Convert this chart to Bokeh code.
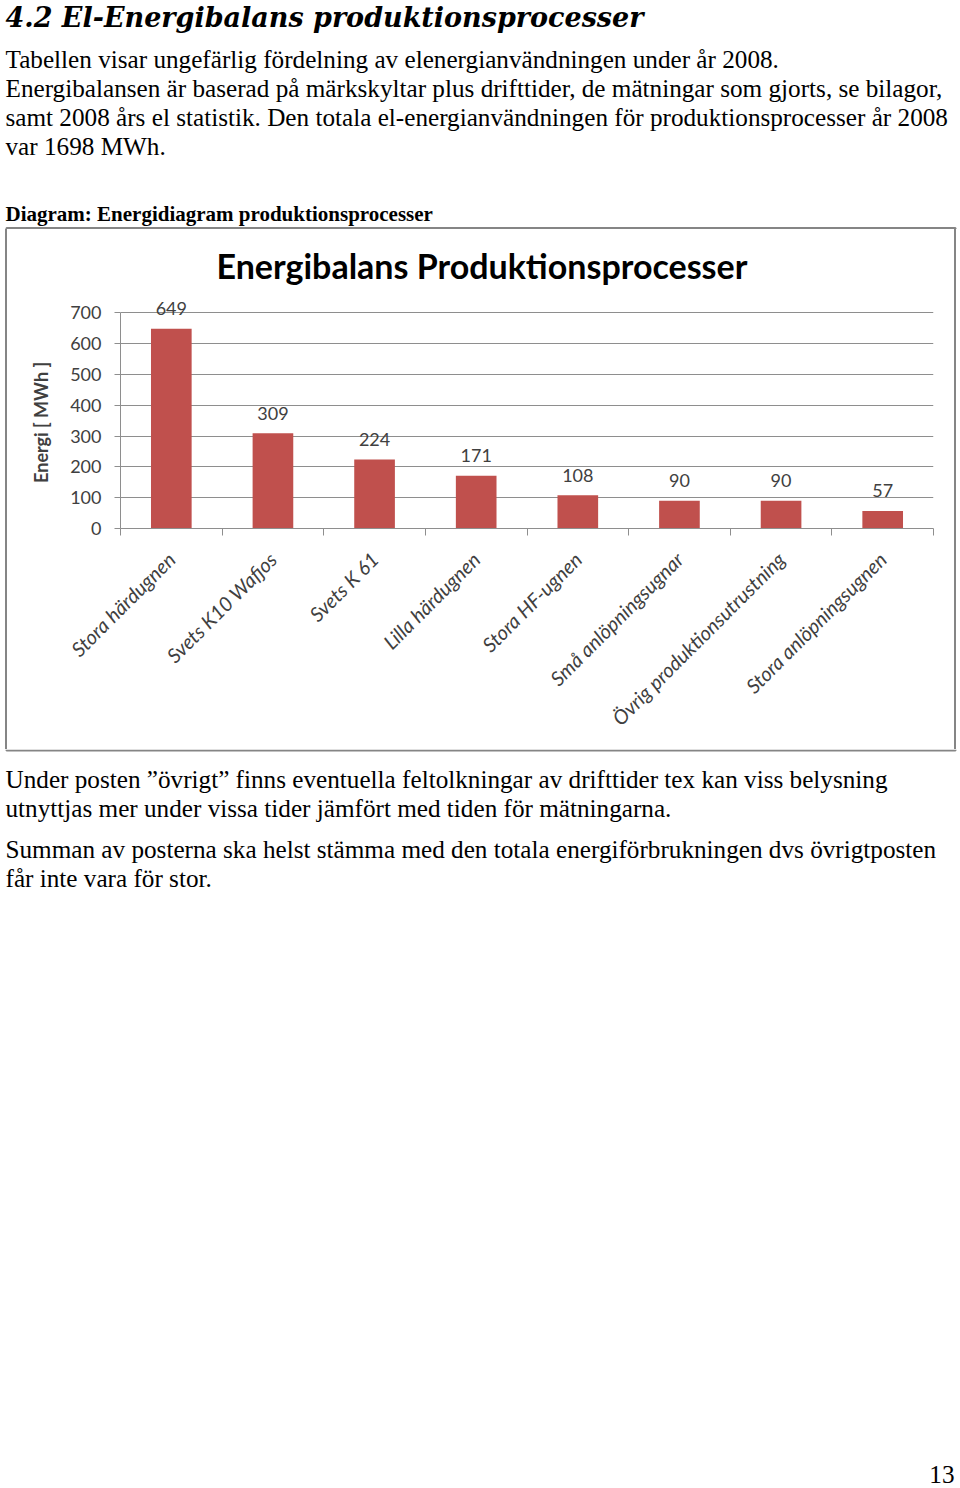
import math
from bokeh.plotting import figure
from bokeh.layouts import column, row
from bokeh.models import ColumnDataSource, FixedTicker, Range1d, Title, Div
from bokeh.core.properties import value
from bokeh.embed import file_html
from bokeh.resources import INLINE

# ---------------- data ----------------
categories = [
    "Stora härdugnen",
    "Svets K10 Wafjos",
    "Svets K 61",
    "Lilla härdugnen",
    "Stora HF-ugnen",
    "Små anlöpningsugnar",
    "Övrig produktionsutrustning",
    "Stora anlöpningsugnen",
]
energy_mwh = [649, 309, 224, 171, 108, 90, 90, 57]
y_ticks = [0, 100, 200, 300, 400, 500, 600, 700]

heading = "4.2  El-Energibalans produktionsprocesser"
intro_lines = [
    "Tabellen visar ungefärlig fördelning av elenergianvändningen under år 2008.",
    "Energibalansen är baserad på märkskyltar plus drifttider, de mätningar som gjorts, se bilagor,",
    "samt 2008 års el statistik. Den totala el-energianvändningen för produktionsprocesser år 2008",
    "var 1698 MWh.",
]
caption = "Diagram: Energidiagram produktionsprocesser"
chart_title = "Energibalans Produktionsprocesser"
y_axis_title = "Energi [ MWh ]"
outro_lines_1 = [
    "Under posten ”övrigt” finns eventuella feltolkningar av drifttider tex kan viss belysning",
    "utnyttjas mer under vissa tider jämfört med tiden för mätningarna.",
]
outro_lines_2 = [
    "Summan av posterna ska helst stämma med den totala energiförbrukningen dvs övrigtposten",
    "får inte vara för stor.",
]
page_number = "13"

# ---------------- styles ----------------
GRID = "#8e8e8e"
BOX = "#858585"
TXT = "#404040"
CHART_FONT = "Lato"
SERIF = "Liberation Serif"
HEAD_FONT = "DejaVu Serif"
W = 960
BODY = 25.2


def page_fig(x0, x1, y0, y1):
    """A blank figure whose data units are page pixels (y downwards)."""
    f = figure(width=x1 - x0, height=y1 - y0, output_backend="svg", toolbar_location=None,
               x_range=Range1d(x0, x1), y_range=Range1d(y1, y0),
               x_axis_type=None, y_axis_type=None,
               min_border=0, outline_line_color=None,
               background_fill_color="white", border_fill_color="white")
    f.grid.visible = False
    return f


def serif_text(f, x, baselines, lines, size, style="normal", align="left", font=SERIF):
    # the rendered alphabetic baseline sits ~0.3 em below the given y; compensate
    ys = [b - 0.3 * size for b in baselines]
    f.text(x=[x] * len(lines), y=ys, text=lines,
           text_font=value(font), text_font_size=f"{size}px", text_font_style=style,
           text_color="black", text_align=align, text_baseline="alphabetic")


def box_line(f, xs, ys):
    f.line(x=xs, y=ys, line_color=BOX, line_width=2)


def side_rule(width, left_pad, height):
    return Div(text=(f'<div style="width:2px;height:{height}px;margin-left:{left_pad}px;'
                     f'background:{BOX}"></div>'),
               width=width, height=height, margin=0)


# ---------------- header ----------------
head = page_fig(0, W, 0, 229)
serif_text(head, 5, [25], [heading], 27, style="bold italic", font=HEAD_FONT)
serif_text(head, 5, [66.5 + 29 * i for i in range(len(intro_lines))], intro_lines, BODY)
serif_text(head, 5, [220], [caption], 21, style="bold")
box_line(head, [6, 6, 955, 955], [229, 227.5, 227.5, 229])

# ---------------- chart band (y 229..749) ----------------
xs = [i + 0.5 for i in range(len(categories))]
src = ColumnDataSource(dict(x=xs, top=energy_mwh, lab=[str(v) for v in energy_mwh]))

p = figure(
    width=945, height=520,
    output_backend="svg", toolbar_location=None,
    x_range=Range1d(0, len(categories)), y_range=Range1d(0, 760),
    min_border_left=112, min_border_right=20,
    min_border_top=65, min_border_bottom=221,
    outline_line_color=None,
    background_fill_color="white", border_fill_color="white",
)

p.add_layout(Title(text=chart_title, align="left", offset=96,
                   text_font=CHART_FONT, text_font_size="34px", text_font_style="bold",
                   text_color="black", standoff=18), "above")

p.vbar(x="x", top="top", width=0.4, bottom=0, source=src,
       fill_color="#C0504D", line_color=None)
p.text(x="x", y="top", text="lab", source=src, y_offset=-20,
       text_align="center", text_baseline="middle",
       text_font=value(CHART_FONT), text_font_size="18px", text_color=TXT)

p.xgrid.visible = False
p.ygrid.grid_line_color = GRID
p.ygrid.grid_line_width = 1
p.ygrid.bounds = (0, 700)

ya = p.yaxis[0]
ya.ticker = FixedTicker(ticks=y_ticks)
ya.bounds = (0, 700)
ya.axis_line_color = GRID
ya.major_tick_line_color = GRID
ya.major_tick_out = 6
ya.major_tick_in = 0
ya.minor_tick_line_color = None
ya.major_label_standoff = 13
ya.major_label_text_font = CHART_FONT
ya.major_label_text_font_size = "18px"
ya.major_label_text_color = TXT
# trailing no-break spaces centre the visible title on the 0-700 span of the axis
ya.axis_label = y_axis_title + "\u00a0" * 5
ya.axis_label_text_font = CHART_FONT
ya.axis_label_text_font_style = "bold"
ya.axis_label_text_font_size = "18px"
ya.axis_label_text_color = TXT
ya.axis_label_standoff = 15

xa = p.xaxis[0]
xa.ticker = FixedTicker(ticks=xs, minor_ticks=list(range(len(categories) + 1)))
xa.major_label_overrides = {x: c for x, c in zip(xs, categories)}
xa.major_label_orientation = math.pi / 4
xa.axis_line_color = GRID
xa.major_tick_line_color = None
xa.major_tick_out = 0
xa.major_tick_in = 0
xa.minor_tick_line_color = GRID
xa.minor_tick_out = 7
xa.minor_tick_in = 0
xa.major_label_standoff = 20
xa.major_label_text_font = CHART_FONT
xa.major_label_text_font_style = "italic"
xa.major_label_text_font_size = "20px"
xa.major_label_text_color = TXT

band = row(side_rule(8, 5, 520), p, side_rule(7, 1, 520), spacing=0)

# ---------------- footer ----------------
foot = page_fig(0, W, 749, 1488)
box_line(foot, [6, 6, 955, 955], [749, 750, 750, 749])
serif_text(foot, 5, [787, 816], outro_lines_1, BODY)
serif_text(foot, 5, [857, 886], outro_lines_2, BODY)
serif_text(foot, 954, [1482], [page_number], BODY, align="right")

page = column(head, band, foot, spacing=0)

open("out.html", "w").write(file_html(page, INLINE))
